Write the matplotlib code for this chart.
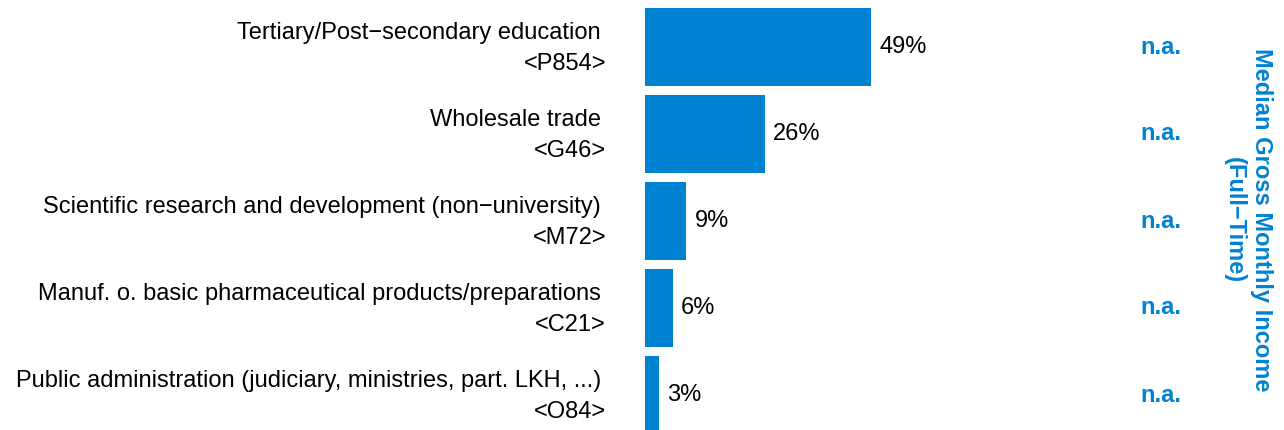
import matplotlib.pyplot as plt
import matplotlib.transforms as mtransforms

plt.rcParams["font.family"] = ["Liberation Sans", "DejaVu Sans"]

# data
categories = [
    "Tertiary/Post\u2212secondary education",
    "Wholesale trade",
    "Scientific research and development (non\u2212university)",
    "Manuf. o. basic pharmaceutical products/preparations",
    "Public administration (judiciary, ministries, part. LKH, ...)",
]
codes = ["<P854>", "<G46>", "<M72>", "<C21>", "<O84>"]
shares = [49, 26, 9, 6, 3]
income = ["n.a.", "n.a.", "n.a.", "n.a.", "n.a."]

blue = "#0082D2"
W, H = 1284, 430

fig = plt.figure(figsize=(W / 100, H / 100), dpi=100)
# axes from x=645px to right edge, full height
ax = fig.add_axes([645 / W, 0, 1 - 645 / W, 1])
ypos = list(range(len(shares)))
ax.barh(ypos, shares, height=0.9, color=blue)
ax.set_xlim(0, (W - 645) / 4.61)
ax.set_ylim((430 - 47) / 87, -47 / 87)
ax.axis("off")

# labels left of the bars
trans = mtransforms.blended_transform_factory(fig.transFigure, ax.transData)
for y, cat, code in zip(ypos, categories, codes):
    ax.text(601 / W, y - 0.16, cat, transform=trans, ha="right", va="center",
            fontsize=17)
    ax.text(606 / W, y + 0.19, code, transform=trans, ha="right", va="center",
            fontsize=17)

# value labels
for y, v in zip(ypos, shares):
    ax.annotate(f"{v}%", (v, y), xytext=(6, 0), textcoords="offset points",
                ha="left", va="center", fontsize=17)

# n.a. column
for y, t in zip(ypos, income):
    ax.text(1181 / W, y, t, transform=trans, ha="right", va="center",
            fontsize=17, fontweight="bold", color=blue)

fig.text(1248 / W, 1 - 220 / H, "Median Gross Monthly Income\n(Full\u2212Time)",
         rotation=-90, ha="center", va="center", fontsize=17,
         fontweight="bold", color=blue, linespacing=1.25)

fig.savefig("out.png", dpi=100)
